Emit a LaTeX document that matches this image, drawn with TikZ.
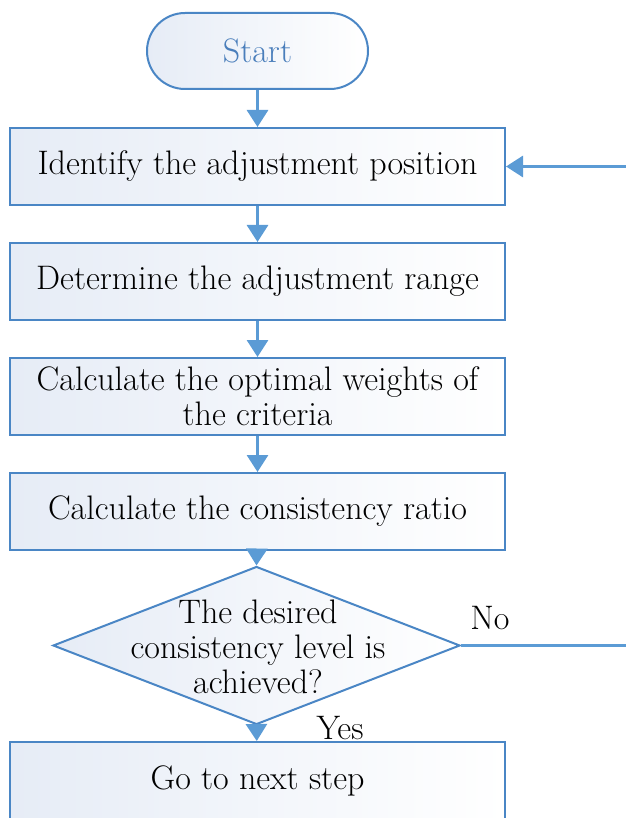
\documentclass[tikz,border=0pt]{standalone}
\usetikzlibrary{shapes.geometric,shapes.misc,arrows.meta}
\definecolor{edgeblue}{HTML}{4A86C5}
\definecolor{arrowblue}{HTML}{5B9BD5}
\definecolor{boxfill}{HTML}{E6ECF6}
\definecolor{starttext}{HTML}{4A7EBB}
\begin{document}
\begin{tikzpicture}[x=1pt,y=-1pt,
  every node/.style={font=\fontsize{34}{35}\selectfont},
  procbox/.style={draw=edgeblue, line width=2pt, rectangle, minimum width=495pt, minimum height=77pt,
     left color=boxfill, right color=white, align=center, inner sep=0pt},
  termbox/.style={draw=edgeblue, line width=2pt, rounded rectangle, minimum width=221pt, minimum height=76pt,
     left color=boxfill, right color=white, text=starttext, inner sep=0pt},
  decbox/.style={draw=edgeblue, line width=2pt, diamond, minimum width=407pt, minimum height=158pt,
     left color=boxfill, right color=white, inner sep=0pt},
  flow/.style={draw=arrowblue, line width=3pt, -{Triangle[width=21pt,length=17pt]}},
  plain/.style={draw=arrowblue, line width=2.5pt},
  lbl/.style={inner sep=0pt}
]
\useasboundingbox (0,0) rectangle (625,818);
\node[termbox] (start) at (257.5,51) {Start};
\node[procbox] (b1) at (257.5,166.5) {Identify the adjustment position};
\node[procbox] (b2) at (257.5,281.5) {Determine the adjustment range};
\node[procbox] (b3) at (257.5,396.5) {Calculate the optimal weights of\\the criteria};
\node[procbox] (b4) at (257.5,511.5) {Calculate the consistency ratio};
\node[decbox] (d) at (256.5,645.5) {};
\node[align=center, inner sep=0pt] (dt) at (258,647) {The desired\\consistency level is\\achieved?};
\node[procbox] (b5) at (257.5,780.5) {Go to next step};
\coordinate (rno) at (627,645.5);
\coordinate (rin) at (627,166.5);
\draw[flow] (start) -- (b1);
\draw[flow] (b1) -- (b2);
\draw[flow] (b2) -- (b3);
\draw[flow] (b3) -- (b4);
\draw[flow] (b4) -- (d.north);
\draw[flow] (d.south) -- (b5);
\draw[plain] (d.east) -- (rno);
\draw[flow] (rin) -- (b1.east);
\node[lbl] (no) at (490,618) {No};
\node[lbl] (yes) at (340,728) {Yes};
\end{tikzpicture}
\end{document}
